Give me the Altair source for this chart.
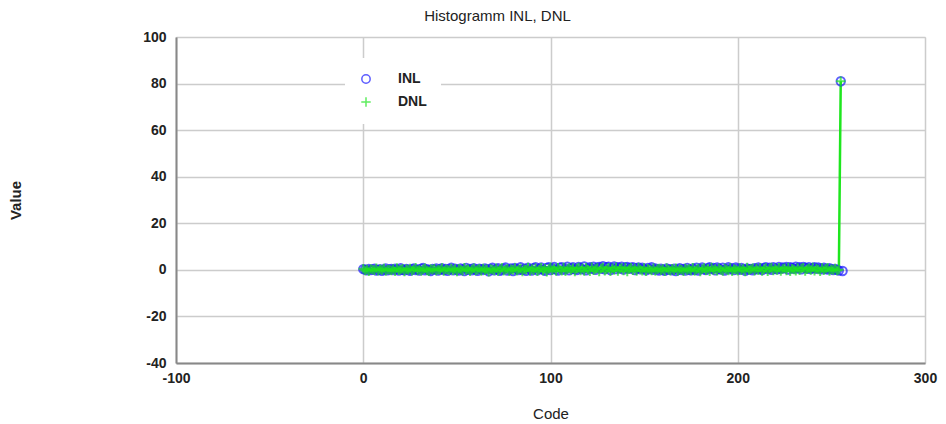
import altair as alt
import pandas as pd

codes_dnl = list(range(256))
codes_inl = list(range(257))

dnl = [
    0.5, -0.3, 0.2, -0.6, 0.4, 0.1, -0.2, 0.7, -0.4, 0.3, -0.1, 0.6, -0.5, 0.2, 0.0, -0.3,
    0.4, -0.6, 0.8, -0.2, 0.1, 0.5, -0.7, 0.3, -0.1, 0.6, -0.4, 0.2, 0.9, -0.3, 0.1, -0.5,
    0.3, 0.7, -0.2, -0.6, 0.4, 0.0, 0.5, -0.4, 0.2, -0.1, 0.8, -0.5, 0.3, 0.1, -0.3, 0.6,
    -0.2, 0.4, -0.7, 0.5, 0.1, -0.4, 0.9, -0.1, 0.3, -0.6, 0.2, 0.7, -0.3, 0.0, 0.5, -0.5,
    0.6, -0.2, 0.3, -0.8, 0.4, 0.1, -0.3, 0.7, -0.5, 0.2, 0.9, -0.4, 0.1, 0.5, -0.6, 0.3,
    -0.1, 0.8, -0.4, 0.2, 0.6, -0.7, 0.3, 0.0, 1.0, -0.5, 0.4, -0.2, 0.7, -0.6, 0.2, 0.9,
    -0.3, 0.5, -0.8, 0.4, 1.1, -0.2, 0.6, -0.5, 0.9, 0.1, -0.4, 1.0, -0.6, 0.3, 0.8, -0.1,
    0.7, -0.7, 0.5, 1.0, -0.3, 0.6, -0.5, 0.9, 0.2, -0.6, 1.1, -0.2, 0.4, 0.8, -0.7, 0.6,
    1.0, -0.4, 0.3, 0.9, -0.6, 0.7, -0.1, 1.1, -0.5, 0.5, 0.8, -0.3, 1.0, -0.7, 0.4, 0.9,
    -0.2, 0.6, -0.5, 1.0, 0.2, -0.4, 0.8, -0.6, 0.5, 0.1, -0.3, 0.7, -0.5, 0.3, 0.6, -0.2,
    0.4, -0.6, 0.8, 0.0, -0.4, 0.5, -0.2, 0.7, -0.5, 0.3, 0.1, -0.6, 0.6, -0.1, 0.4, -0.3,
    0.9, -0.5, 0.2, 0.6, -0.7, 0.3, 0.8, -0.2, 0.5, -0.6, 1.0, -0.1, 0.4, -0.4, 0.7, 0.0,
    -0.5, 0.6, 0.2, -0.3, 0.9, -0.6, 0.4, 0.1, -0.4, 0.8, -0.2, 0.5, -0.7, 1.0, -0.1, 0.3,
    0.7, -0.4, 0.6, -0.2, 0.9, -0.5, 0.3, 0.8, -0.6, 0.5, 1.0, -0.3, 0.6, -0.1, 0.9, -0.5,
    0.4, 0.7, -0.3, 1.0, -0.6, 0.5, 0.2, -0.4, 0.8, -0.2, 0.6, 0.9, -0.5, 0.3, 0.7, -0.1,
    1.0, -0.4, 0.6, 0.2, -0.6, 0.8, -0.2, 0.5, 0.9, -0.5, 0.3, -0.1, 0.6, -0.3, 0.0, 81.0,
]

inl = [
    0.3, 0.1, -0.2, 0.4, -0.1, 0.2, 0.5, -0.3, 0.0, 0.3, -0.4, 0.1, 0.6, -0.2, 0.2, 0.4,
    -0.1, 0.5, 0.2, -0.3, 0.7, 0.0, -0.2, 0.4, 0.1, -0.4, 0.3, 0.6, -0.1, 0.2, -0.3, 0.5,
    0.8, -0.2, 0.3, 0.0, -0.5, 0.4, 0.1, 0.6, -0.3, 0.2, 0.7, -0.1, 0.4, -0.4, 0.3, 0.9,
    -0.2, 0.5, 0.1, -0.3, 0.6, 0.2, -0.5, 0.8, 0.0, 0.4, -0.2, 0.7, 0.1, -0.4, 0.5, 0.3,
    -0.1, 0.6, 0.2, -0.6, 0.4, 0.9, -0.2, 0.3, 0.7, -0.4, 0.1, 0.5, 1.0, -0.3, 0.2, 0.6,
    -0.5, 0.8, 0.3, -0.1, 1.1, 0.0, 0.5, -0.4, 0.9, 0.2, -0.3, 0.7, 1.2, -0.2, 0.4, 1.0,
    0.1, -0.4, 0.8, 1.1, -0.1, 0.6, 1.3, 0.2, -0.3, 0.9, 1.2, 0.0, 0.5, 1.4, -0.2, 0.7,
    1.1, 0.3, -0.1, 1.3, 0.8, 0.2, 1.5, -0.2, 0.6, 1.2, 0.4, 1.4, 0.0, 0.9, 1.3, 0.5,
    1.6, 0.2, 1.1, 1.4, -0.1, 0.8, 1.5, 0.3, 1.2, 0.6, 1.4, 0.1, 1.0, 1.3, 0.4, 0.9,
    1.2, -0.1, 0.7, 1.0, 0.2, 0.9, 0.4, -0.2, 0.8, 0.3, 1.1, 0.0, 0.6, 0.2, -0.3, 0.5,
    0.1, -0.4, 0.6, 0.0, 0.3, -0.2, 0.5, -0.5, 0.2, 0.7, -0.1, 0.4, -0.3, 0.8, 0.1, -0.2,
    0.6, 0.0, 0.9, -0.3, 0.4, 1.0, 0.2, -0.1, 0.7, 1.1, 0.3, 0.8, -0.2, 1.0, 0.5, 0.1,
    0.9, -0.3, 0.4, 1.1, 0.2, 0.7, -0.1, 1.0, 0.5, 0.0, 0.8, 0.3, -0.4, 0.6, 0.1, 0.4,
    -0.2, 0.7, 0.2, 1.0, 0.5, -0.1, 0.8, 1.2, 0.3, 0.9, 0.0, 1.1, 0.6, 0.2, 1.3, 0.4,
    1.0, 0.7, 1.3, 0.1, 1.2, 0.8, 0.4, 1.4, 0.6, 1.1, 0.2, 1.3, 0.9, 0.5, 1.2, 0.3,
    0.8, 1.1, 0.4, 1.0, 0.6, 0.2, 0.9, 0.5, 0.1, 0.7, 0.3, -0.1, 0.4, 0.0, -0.3, 81.0,
    -0.5,
]

x_ticks = [-100, 0, 100, 200, 300]
y_ticks = [-40, -20, 0, 20, 40, 60, 80, 100]
series_names = ["INL", "DNL"]
series_colors = ["#1a1aff", "#1ee61e"]
plus_path = "M-1,0L1,0M0,-1L0,1"

df_inl = pd.DataFrame({"Code": codes_inl, "Value": inl, "Series": "INL", "ord": 0})
df_dnl = pd.DataFrame({"Code": codes_dnl, "Value": dnl, "Series": "DNL", "ord": 1})
df = pd.concat([df_inl, df_dnl], ignore_index=True)

FONT = "Liberation Sans"
LBL = "datum.value + ''"

x_enc = alt.X(
    "Code:Q",
    scale=alt.Scale(domain=[-100, 300], nice=False),
    axis=alt.Axis(
        values=x_ticks, title="Code", tickSize=0, labelPadding=8,
        labelExpr=LBL,
        labelFontWeight="bold", labelFontSize=14, labelColor="#222",
        titleFontSize=15, titleFontWeight="normal", titleColor="#222",
        titleY=50, titleBaseline="middle", labelFlush=False,
        gridColor="#cccccc", gridWidth=1.5, domainColor="#888888", domainWidth=2,
    ),
)
y_enc = alt.Y(
    "Value:Q",
    scale=alt.Scale(domain=[-40, 100], nice=False),
    axis=alt.Axis(
        values=y_ticks, title="Value", tickSize=0, labelPadding=10,
        labelExpr=LBL,
        labelFontWeight="bold", labelFontSize=14, labelColor="#222",
        titleFontSize=15, titleFontWeight="bold", titleColor="#222",
        titleX=-161, titleY=163, titleAngle=-90, titleAlign="center",
        titleBaseline="middle", labelFlush=False,
        gridColor="#cccccc", gridWidth=1.5, domainColor="#888888", domainWidth=2,
    ),
)

line = alt.Chart(df_dnl).mark_line(color=series_colors[1], strokeWidth=2.5).encode(
    x=x_enc, y=y_enc, order="Code:Q"
)

points = alt.Chart(df).mark_point(filled=False, strokeWidth=2).encode(
    x=x_enc,
    y=y_enc,
    order=alt.Order("ord:Q"),
    size=alt.Size(
        "Series:N",
        scale=alt.Scale(domain=series_names, range=[70, 90]),
        legend=None,
    ),
    color=alt.Color(
        "Series:N",
        scale=alt.Scale(domain=series_names, range=series_colors),
        legend=alt.Legend(
            title=None, orient="none", legendX=169, legendY=21,
            fillColor="white", padding=14, labelFont=FONT,
            labelFontSize=14, labelFontWeight="bold", labelColor="#222",
            labelOffset=25, rowPadding=7, symbolSize=60, symbolStrokeWidth=1.5,
            labelLimit=200,
        ),
    ),
    shape=alt.Shape(
        "Series:N",
        scale=alt.Scale(domain=series_names, range=["circle", plus_path]),
        legend=None,
    ),
)

chart = (
    alt.layer(line, points)
    .properties(
        width=749,
        height=326,
        autosize=alt.AutoSizeParams(type="none"),
        padding={"left": 168, "top": 29, "right": 13, "bottom": 62},
        title=alt.TitleParams(
            "Histogramm INL, DNL", anchor="middle", dx=-53, offset=6,
            fontSize=15, fontWeight="normal", font=FONT, color="#222",
        ),
    )
    .configure_view(stroke="#999999", strokeWidth=2)
    .configure_axis(labelFont=FONT, titleFont=FONT)
    .configure(background="white")
)

chart.save("out.html", embed_options={"renderer": "svg", "actions": False})
